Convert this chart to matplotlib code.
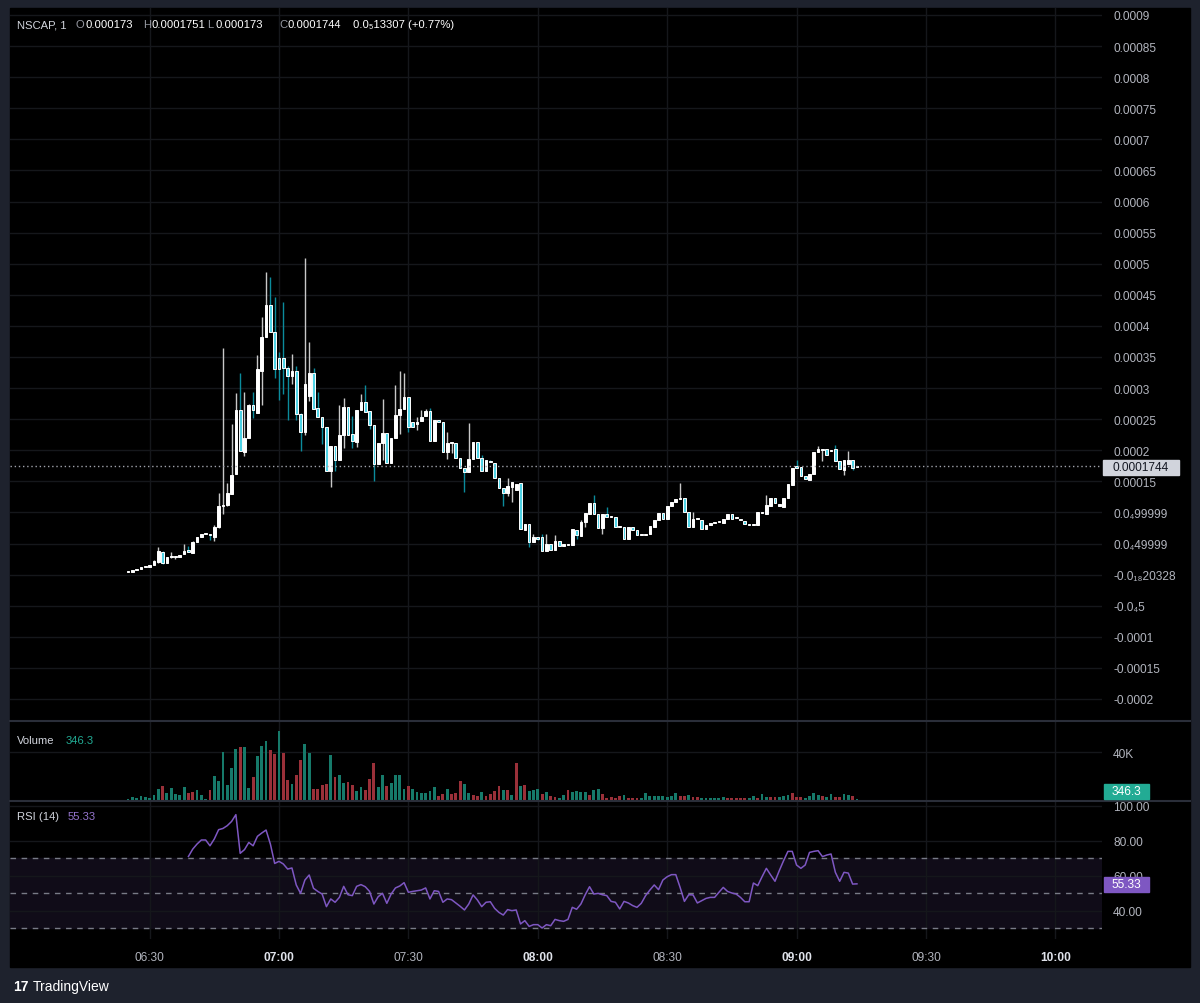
"""TradingView-style NSCAP 1-minute chart: candles, volume and RSI(14)."""

import matplotlib
matplotlib.use("Agg")
import matplotlib.pyplot as plt
from matplotlib.patches import Rectangle
import numpy as np

plt.rcParams["font.family"] = ["Liberation Sans", "DejaVu Sans"]

W, H = 1200, 1004
UNIT = 1e-5  # prices below are in units of 1e-5

# candle index 0 = 06:25, one candle per minute
opens = [
    0.4, 0.5, 0.7, 0.9, 1.15, 1.3, 1.6, 2.0, 3.7, 1.8,
    2.8, 2.8, 2.9, 3.3, 3.9, 3.5, 5.2, 6.0, 6.5, 6.5,
    6.1, 7.6, 11.0, 11.2, 12.9, 16.2, 26.5, 19.7, 21.9, 27.3,
    26.0, 32.8, 38.2, 43.3, 39.0, 34.8, 34.8, 33.3, 32.0, 32.7,
    25.9, 22.9, 28.8, 32.5, 26.8, 25.4, 23.7, 16.7, 20.7, 18.5,
    22.4, 27.0, 22.6, 21.4, 26.4, 27.7, 26.3, 24.1, 17.8, 21.1,
    22.7, 17.9, 21.9, 25.6, 26.7, 28.5, 24.6, 24.3, 24.7, 25.5,
    26.3, 21.5, 24.9, 24.5, 19.7, 21.1, 21.1, 18.7, 17.1, 16.5,
    18.6, 21.4, 18.8, 16.7, 18.3, 18.0, 15.5, 13.9, 13.1, 14.1,
    13.6, 14.7, 7.2, 8.1, 5.3, 5.9, 6.0, 3.8, 4.9, 4.0,
    5.4, 4.6, 4.7, 4.8, 7.2, 6.2, 8.4, 9.8, 11.5, 9.8,
    7.5, 9.7, 9.2, 9.2, 7.7, 7.7, 5.8, 7.6, 7.1, 6.3,
    6.3, 6.5, 7.7, 8.8, 9.9, 9.0, 11.0, 11.6, 12.1, 12.3,
    10.0, 7.7, 8.9, 8.8, 7.4, 7.9, 8.3, 8.4, 8.3, 9.0,
    9.7, 9.1, 9.0, 8.6, 8.1, 7.9, 7.9, 9.9, 9.8, 11.1,
    12.3, 11.0, 10.9, 12.4, 14.4, 17.4, 17.3, 15.8, 15.2, 16.2,
    19.7, 20.0, 20.2, 19.8, 20.2, 18.3, 16.8, 17.8, 18.5, 17.30,
]
closes = [
    0.5, 0.65, 0.9, 1.15, 1.3, 1.55, 2.2, 3.8, 1.8, 2.8,
    3.0, 2.85, 3.2, 3.8, 3.6, 5.3, 6.0, 6.5, 6.6, 6.3,
    7.7, 11.1, 11.2, 13.2, 16.1, 26.5, 19.8, 21.9, 27.3, 26.5,
    33.1, 38.2, 43.3, 39.0, 33.0, 33.0, 33.2, 32.0, 32.8, 25.8,
    22.9, 30.7, 32.5, 26.7, 25.3, 23.7, 16.7, 20.7, 18.5, 22.4,
    27.0, 22.4, 21.5, 26.5, 27.7, 26.2, 24.1, 17.8, 21.1, 22.7,
    17.9, 21.9, 25.6, 26.7, 28.5, 23.7, 23.7, 24.6, 25.4, 26.3,
    21.5, 24.9, 24.5, 19.7, 21.1, 21.2, 18.7, 17.1, 16.5, 18.6,
    21.4, 18.8, 16.7, 18.4, 18.1, 15.5, 13.9, 13.1, 14.3, 14.9,
    14.6, 7.3, 8.2, 5.2, 6.1, 5.8, 3.8, 4.9, 4.0, 5.4,
    4.6, 4.9, 4.8, 7.3, 6.4, 8.5, 9.9, 11.5, 9.8, 7.5,
    9.7, 9.2, 9.4, 7.7, 7.8, 5.8, 7.6, 7.2, 6.4, 6.5,
    6.5, 7.8, 8.8, 9.9, 9.0, 11.0, 11.7, 12.1, 12.3, 10.0,
    7.7, 9.0, 9.0, 7.4, 7.9, 8.3, 8.4, 8.5, 9.0, 9.7,
    9.0, 9.2, 8.8, 8.1, 8.0, 8.0, 10.1, 10.0, 11.2, 12.4,
    11.5, 11.4, 12.4, 14.6, 17.2, 17.1, 15.8, 15.3, 16.2, 19.7,
    20.2, 20.1, 19.2, 20.0, 18.3, 17.0, 18.4, 18.5, 17.2, 17.44,
]
highs = [
    0.5, 0.65, 0.9, 1.15, 1.3, 1.55, 2.3, 4.4, 3.8, 2.9,
    3.6, 2.9, 3.2, 5.0, 4.6, 5.4, 6.0, 6.5, 6.6, 6.6,
    7.9, 13.1, 36.4, 14.8, 24.2, 29.2, 32.4, 29.3, 27.5, 29.3,
    35.3, 41.5, 48.7, 47.9, 44.7, 35.8, 43.8, 33.6, 35.5, 33.6,
    26.0, 50.9, 37.4, 33.3, 29.3, 25.4, 23.7, 20.7, 20.7, 27.3,
    28.4, 27.0, 25.5, 26.5, 29.0, 30.5, 26.3, 24.1, 21.1, 28.2,
    22.7, 21.9, 30.5, 32.7, 32.4, 28.5, 24.6, 25.3, 26.4, 26.6,
    26.8, 24.9, 24.9, 24.5, 22.9, 21.4, 21.1, 18.7, 17.1, 24.4,
    21.4, 21.4, 19.2, 18.4, 18.5, 18.0, 15.5, 13.9, 15.6, 14.9,
    14.6, 14.7, 8.2, 8.1, 6.5, 6.0, 6.5, 6.5, 4.9, 6.3,
    5.4, 4.9, 4.8, 7.3, 7.2, 8.8, 9.9, 11.5, 12.8, 9.8,
    9.7, 10.8, 9.4, 9.2, 7.8, 7.7, 7.6, 7.6, 7.1, 6.5,
    6.5, 7.8, 8.8, 9.9, 9.9, 11.0, 11.7, 12.1, 14.8, 12.3,
    10.0, 10.0, 9.0, 8.8, 7.9, 8.3, 8.4, 8.5, 9.0, 9.7,
    9.7, 9.2, 9.0, 8.6, 8.1, 8.0, 10.1, 10.0, 12.8, 12.4,
    12.3, 11.4, 12.4, 14.6, 17.2, 18.4, 17.3, 15.8, 16.2, 19.7,
    20.7, 20.1, 20.2, 20.0, 20.8, 18.3, 18.4, 19.8, 18.5, 17.51,
]
lows = [
    0.4, 0.5, 0.7, 0.9, 1.15, 1.3, 1.6, 1.9, 1.7, 1.8,
    2.6, 2.5, 2.9, 3.3, 3.6, 3.5, 5.2, 6.0, 6.5, 5.6,
    5.4, 7.5, 9.7, 11.0, 12.9, 16.2, 19.8, 19.1, 21.9, 25.2,
    26.0, 27.2, 38.2, 39.0, 31.6, 28.1, 29.1, 24.8, 30.6, 24.8,
    19.9, 22.5, 28.0, 26.7, 25.3, 21.0, 16.7, 14.1, 16.7, 18.5,
    20.3, 22.4, 20.4, 20.6, 26.4, 26.2, 23.4, 15.1, 17.8, 18.5,
    17.9, 17.9, 21.9, 22.6, 26.7, 23.0, 23.7, 23.2, 24.7, 25.5,
    21.5, 21.5, 24.5, 19.7, 18.6, 19.6, 18.7, 17.1, 13.3, 16.5,
    18.6, 18.8, 16.7, 16.7, 18.1, 15.5, 13.9, 11.1, 12.6, 11.6,
    13.6, 7.3, 7.2, 4.5, 5.3, 5.5, 3.8, 3.8, 4.0, 4.0,
    4.6, 4.6, 4.7, 4.8, 5.8, 6.2, 7.7, 9.8, 9.8, 7.5,
    6.6, 9.2, 9.2, 7.7, 7.7, 5.8, 5.8, 7.2, 6.4, 6.3,
    6.3, 6.5, 7.7, 8.8, 9.0, 9.0, 11.0, 11.6, 12.1, 10.0,
    7.7, 7.7, 8.9, 7.4, 7.4, 7.9, 8.3, 8.4, 8.3, 9.0,
    9.0, 9.1, 8.8, 8.1, 8.0, 7.9, 7.9, 9.9, 9.8, 11.1,
    11.5, 11.0, 10.9, 12.4, 14.4, 17.1, 15.8, 15.3, 15.2, 16.2,
    19.7, 18.3, 19.2, 19.8, 18.3, 17.0, 16.0, 17.8, 16.9, 17.30,
]

# volume in thousands, and whether the bar is green
volume_k = [
    0.6, 2.3, 1.7, 3.1, 2.5, 1.7, 3.9, 9.0, 11.5, 5.6,
    9.9, 4.8, 4.2, 10.4, 5.6, 6.8, 8.2, 4.2, 0.6, 8.2,
    20.0, 15.8, 40.0, 12.4, 26.8, 43.1, 44.8, 44.8, 9.9, 19.2,
    36.6, 45.6, 49.6, 42.3, 38.3, 57.7, 39.7, 16.6, 13.2, 20.8,
    33.5, 47.3, 39.7, 9.0, 9.0, 12.4, 13.2, 37.5, 19.2, 20.8,
    14.1, 14.9, 12.4, 7.6, 10.7, 8.2, 17.5, 31.0, 10.7, 20.8,
    11.5, 14.1, 20.8, 20.8, 9.0, 11.5, 9.0, 6.5, 5.6, 5.6,
    7.6, 10.7, 3.1, 4.8, 9.0, 4.8, 5.6, 15.8, 13.2, 5.6,
    3.9, 3.1, 6.5, 3.1, 4.8, 7.3, 11.5, 8.2, 8.2, 4.2,
    31.0, 11.5, 12.4, 7.3, 8.2, 9.0, 4.8, 6.5, 3.1, 2.3,
    1.4, 3.9, 8.2, 6.5, 7.3, 6.5, 6.5, 3.9, 8.2, 8.7,
    5.1, 1.7, 2.5, 1.4, 3.4, 3.9, 1.7, 1.7, 1.1, 1.7,
    5.6, 2.8, 2.8, 2.8, 2.8, 2.2, 3.1, 5.3, 3.4, 3.4,
    4.2, 2.2, 2.5, 1.7, 1.1, 1.1, 1.7, 1.7, 2.0, 1.7,
    1.1, 1.1, 1.1, 1.7, 1.1, 3.4, 1.1, 5.1, 2.5, 2.5,
    2.0, 2.5, 2.8, 4.2, 5.9, 2.5, 2.5, 1.7, 3.1, 5.9,
    4.2, 3.4, 2.2, 4.8, 2.5, 2.5, 5.1, 4.2, 3.4, 0.3463,
]
volume_up = (
    "GGGGGGGGRG" "GGGGRRGGGR" "GGGGGGRGGR" "GGGRRGRRGR" "RGGRRRRGRG"
    "GRRGGRRRGG" "RGGGGRGGGG" "GGRRGRRRGG" "RRGRRRRGRG" "RGRGGGRGRR"
    "GGRGGGGRGG" "RRRRRGRRRG" "GGGGGGGGRR" "GRRGGGGGGR" "RRRRGGRGGR"
    "RGGGRRRGGG" "GRGGRRGGRG"
)

# RSI(14), starts at candle 14
rsi = [
    71.0, 75.2, 78.1, 80.4, 80.4, 77.1, 81.0, 86.3, 87.0, 88.6,
    91.0, 94.9, 72.8, 74.9, 79.0, 77.1, 82.5, 84.4, 86.1, 78.1,
    67.0, 68.2, 66.7, 63.8, 64.4, 54.7, 49.9, 57.5, 60.4, 52.8,
    51.0, 49.5, 42.3, 46.7, 44.8, 47.6, 53.9, 49.1, 48.6, 53.9,
    54.9, 53.7, 51.0, 43.8, 48.0, 49.9, 44.2, 49.5, 53.0, 54.1,
    56.0, 50.5, 51.0, 51.4, 51.8, 53.0, 46.7, 51.4, 51.0, 44.8,
    46.7, 46.3, 44.4, 42.5, 40.4, 43.8, 49.0, 46.1, 42.3, 44.8,
    45.1, 41.3, 39.0, 37.5, 40.6, 40.0, 40.4, 32.4, 34.3, 31.0,
    32.0, 32.0, 30.1, 32.0, 31.4, 35.0, 34.3, 33.9, 35.0, 41.9,
    40.8, 43.8, 49.1, 53.7, 49.5, 49.9, 49.1, 48.6, 45.3, 44.8,
    41.0, 45.3, 44.4, 42.9, 41.9, 44.2, 48.6, 51.8, 54.7, 52.0,
    57.5, 59.4, 60.6, 60.6, 53.3, 45.3, 49.1, 49.0, 44.4, 45.7,
    47.0, 47.6, 47.6, 50.5, 53.3, 51.0, 50.1, 49.5, 47.6, 45.1,
    45.1, 55.8, 54.3, 59.4, 64.2, 60.4, 56.8, 62.9, 68.6, 73.9,
    73.9, 66.1, 64.2, 66.1, 73.3, 73.9, 74.3, 70.9, 71.8, 72.4,
    61.9, 56.8, 61.9, 61.5, 55.2, 55.33,
]

price_ticks = [0.0009 - k * 0.00005 for k in range(23)]
price_labels = [
    "0.0009", "0.00085", "0.0008", "0.00075", "0.0007", "0.00065", "0.0006",
    "0.00055", "0.0005", "0.00045", "0.0004", "0.00035", "0.0003", "0.00025",
    "0.0002", "0.00015", "0.0\u208499999", "0.0\u208449999",
    "-0.0\u2081\u208820328", "-0.0\u20845", "-0.0001", "-0.00015", "-0.0002",
]
time_ticks = [5, 35, 65, 95, 125, 155, 185, 215]
time_labels = ["06:30", "07:00", "07:30", "08:00", "08:30", "09:00", "09:30", "10:00"]

BG = "#1e222d"
GRID = "#15171b"
AXIS_TXT = "#b2b5be"
TEAL = "#22ab94"
PURPLE = "#7e57c2"
FS = 8.6
HS = 8.1


def box(left, top, right, bottom):
    return [left / W, 1 - bottom / H, (right - left) / W, (bottom - top) / H]


def fx(x):
    return x / W


def fy(y):
    return 1 - y / H


def value_tag(text, left, top, right, bottom, fc, tc):
    fig.patches.append(Rectangle((fx(left), fy(bottom)), (right - left) / W, (bottom - top) / H,
                                 transform=fig.transFigure, color=fc, zorder=20))
    fig.text(fx((left + right) / 2), fy((top + bottom) / 2), text, ha="center", va="center",
             color=tc, fontsize=FS, zorder=21)


fig = plt.figure(figsize=(W / 100, H / 100), dpi=100, facecolor=BG)
fig.patches.append(Rectangle((fx(10), fy(968)), fx(1180), (968 - 9) / H,
                             transform=fig.transFigure, color="black", zorder=-10))

ax_p = fig.add_axes(box(10, 9, 1102, 722))
ax_v = fig.add_axes(box(10, 722, 1102, 802))
ax_r = fig.add_axes(box(10, 802, 1102, 940))

idx = np.arange(len(opens))
o = np.array(opens) * UNIT
c = np.array(closes) * UNIT
hi = np.array(highs) * UNIT
lo = np.array(lows) * UNIT

for ax in (ax_p, ax_v, ax_r):
    ax.set_facecolor("black")
    ax.set_xlim(-27.37, 225.82)
    for s in ax.spines.values():
        s.set_visible(False)
    ax.yaxis.tick_right()
    ax.tick_params(axis="y", length=0, pad=8, labelsize=FS, labelcolor=AXIS_TXT)
    ax.set_xticks(time_ticks)
    ax.tick_params(axis="x", length=0)
    ax.grid(True, color=GRID, lw=1)
    ax.set_axisbelow(True)

# --- price pane ---
up = c >= o
wick_col = np.where(up, "#c8c8c8", "#0b8b9c")
ax_p.vlines(idx, lo, hi, colors=wick_col, lw=1, zorder=2)
body_h = np.where(np.abs(c - o) < 0.18 * UNIT, 0.18 * UNIT, np.abs(c - o))
body_b = np.minimum(o, c)
ax_p.bar(idx, body_h, bottom=body_b, width=0.62,
         color=np.where(up, "#ffffff", "#4fd3e6"), edgecolor="#ffffff",
         linewidth=0.7, zorder=3)
ax_p.set_ylim(-23.54 * UNIT, 91.12 * UNIT)
ax_p.set_yticks(price_ticks)
ax_p.set_yticklabels(price_labels)
ax_p.set_xticklabels([])
ax_p.axhline(c[-1], color="#a0a3ab", lw=1, ls=(0, (1, 2)), zorder=4)
value_tag("0.0001744", 1103, 461, 1179, 476, "#d1d4dc", "#131722")

# header
hdr_y = fy(25)
fig.text(fx(17), hdr_y, "NSCAP, 1", color="#d1d4dc", fontsize=HS, va="center")
for x_lab, lab, x_val, val in [(76, "O", 85, "0.000173"), (143, "H", 151, "0.0001751"),
                               (207, "L", 216, "0.000173"), (279, "C", 288, "0.0001744")]:
    fig.text(fx(x_lab), hdr_y, lab, color="#9598a1", fontsize=HS, va="center")
    fig.text(fx(x_val), hdr_y, val, color="#ffffff", fontsize=HS, va="center")
fig.text(fx(353), hdr_y, "0.0\u208513307 (+0.77%)", color="#ffffff", fontsize=HS, va="center")

# --- volume pane ---
vcol = ["#167a6a" if v == "G" else "#9a3039" for v in volume_up]
ax_v.bar(idx, np.array(volume_k) * 1000, width=0.66, color=vcol, zorder=2)
ax_v.set_ylim(-1100, 66400)
ax_v.set_yticks([40000])
ax_v.set_yticklabels(["40K"])
ax_v.set_xticklabels([])
value_tag("346.3", 1104, 785, 1149, 800, TEAL, "white")
fig.text(fx(17), fy(741), "Volume", color="#d1d4dc", fontsize=HS, va="center")
fig.text(fx(66), fy(741), "346.3", color=TEAL, fontsize=HS, va="center")

# --- RSI pane ---
ax_r.axhspan(30, 70, color="#100c18", zorder=0.5)
for lvl in (70, 50, 30):
    ax_r.axhline(lvl, color="#787b86", lw=1, ls=(0, (4, 4)), zorder=1)
ax_r.plot(idx[14:], rsi, color=PURPLE, lw=1.1, zorder=3)
ax_r.set_ylim(23.8, 102.7)
ax_r.set_yticks([100, 80, 60, 40])
ax_r.set_yticklabels(["100.00", "80.00", "60.00", "40.00"])
value_tag("55.33", 1104, 878, 1149, 893, PURPLE, "white")
fig.text(fx(17), fy(817), "RSI (14)", color="#d1d4dc", fontsize=HS, va="center")
fig.text(fx(68), fy(817), "55.33", color="#9575cd", fontsize=HS, va="center")

ax_r.set_xticklabels(time_labels)
ax_r.tick_params(axis="x", pad=9, labelsize=FS)
for lab in ax_r.get_xticklabels():
    if lab.get_text().endswith(":00"):
        lab.set_fontweight("bold")
        lab.set_color("#e0e3eb")
    else:
        lab.set_color(AXIS_TXT)

# pane separators
for y in (722, 802):
    fig.add_artist(plt.Line2D([fx(10), fx(1190)], [fy(y), fy(y)], color="#2a2e39", lw=1.5))

# footer logo
fig.text(fx(13), fy(987), "17", color="white", fontsize=10, fontweight="bold", va="center")
fig.text(fx(33), fy(987), "TradingView", color="white", fontsize=10, va="center")

fig.savefig("out.png", dpi=100, facecolor=BG)
